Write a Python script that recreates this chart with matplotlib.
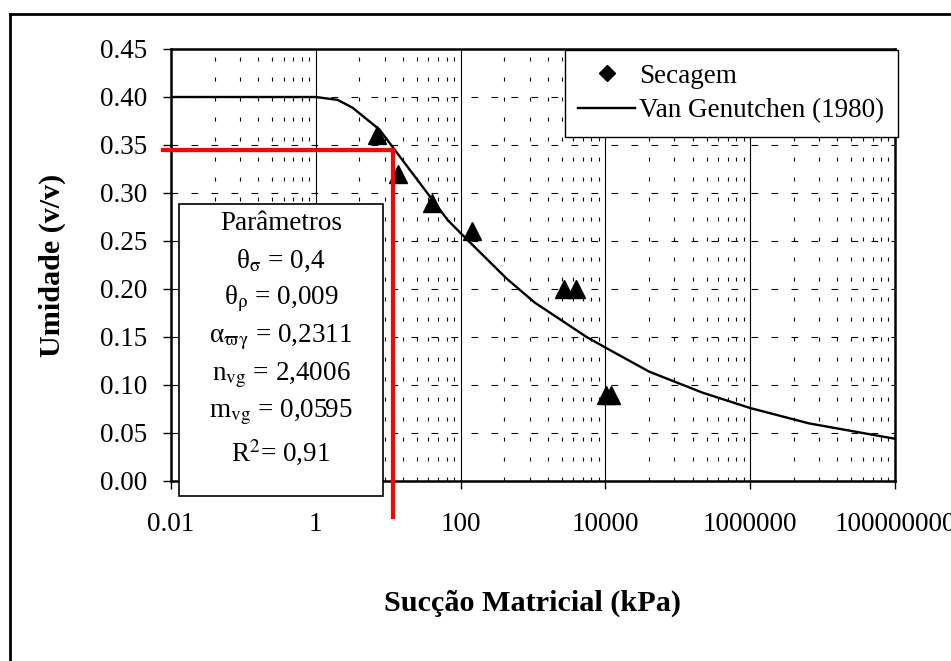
import matplotlib
matplotlib.use('Agg')
import matplotlib.pyplot as plt
from matplotlib.lines import Line2D
from matplotlib.patches import Rectangle
from matplotlib.ticker import FixedLocator, NullLocator

plt.rcParams['font.family'] = 'Liberation Serif'
plt.rcParams['mathtext.fontset'] = 'stix'

# measured points (secagem)
psi_secagem = [6.9, 13.5, 40, 146, 2700, 3870, 10300, 12000]
theta_secagem = [0.36, 0.32, 0.29, 0.26, 0.20, 0.20, 0.09, 0.09]

# Van Genutchen curve
psi_vg = [0.01, 1, 2.0, 3.2, 7.6, 12.3, 66, 107, 430, 1050, 5500, 10000, 40000, 2.2e5, 1e6, 6.5e6, 1e8]
theta_vg = [0.400, 0.400, 0.397, 0.389, 0.366, 0.345, 0.272, 0.256, 0.211, 0.186, 0.150, 0.139, 0.114, 0.092, 0.076, 0.060, 0.044]

# red reference lines
ref_psi = 11.5
ref_theta = 0.345

x_ticks = [0.01, 1, 100, 1e4, 1e6, 1e8]
x_tick_labels = ['0.01', '1', '100', '10000', '1000000', '100000000']
y_ticks = [0.00, 0.05, 0.10, 0.15, 0.20, 0.25, 0.30, 0.35, 0.40, 0.45]
y_tick_labels = ['%.2f' % v for v in y_ticks]

param_lines = ['Parâmetros',
               r'θ$_{\mathrm{σ}}$ = 0,4',
               r'θ$_{\mathrm{ρ}}$ = 0,009',
               r'α$_{\mathrm{ϖγ}}$ = 0,2311',
               r'n$_{\mathrm{vg}}$ = 2,4006',
               r'm$_{\mathrm{vg}}$ = 0,0595',
               r'R$^{2}$= 0,91']

W, H = 951, 661
fig = plt.figure(figsize=(W / 100, H / 100), dpi=100)
ax = fig.add_axes([171 / W, 1 - 481 / H, 724 / W, 432 / H])

ax.set_xscale('log')
ax.set_xlim(0.01, 1e8)
ax.set_ylim(0, 0.45)

# grid: solid major verticals, dotted minor verticals, dashed horizontals
for base in x_ticks[:-1]:
    if base > 0.01:
        ax.axvline(base, color='black', lw=0.8, zorder=1)
    for k in range(2, 10):
        ax.axvline(base * k * k, color='black', lw=0.8, dashes=(3.5, 14.5), zorder=1)
for v in y_ticks[1:-1]:
    ax.axhline(v, color='black', lw=0.8, dashes=(6, 12), zorder=1)

ax.plot(psi_vg, theta_vg, color='black', lw=1.7, zorder=3)
ax.plot(psi_secagem, theta_secagem, ls='none', marker='^', ms=13.5, color='black', zorder=4)

ax.plot([0.0078, ref_psi], [ref_theta, ref_theta], color='red', lw=3, clip_on=False, zorder=7)
ax.plot([ref_psi, ref_psi], [ref_theta, -0.0375], color='red', lw=3, clip_on=False, zorder=7)

ax.xaxis.set_major_locator(FixedLocator(x_ticks))
ax.xaxis.set_minor_locator(NullLocator())
ax.set_xticklabels(x_tick_labels)
ax.set_yticks(y_ticks)
ax.set_yticklabels(y_tick_labels)
ax.tick_params(axis='both', labelsize=19.5, direction='out', length=6, width=1, color='black')
ax.tick_params(axis='x', pad=16)
ax.tick_params(axis='y', pad=11)

for s in ax.spines.values():
    s.set_linewidth(1.8)

# parameters box
box = Rectangle((8 / 724, -15 / 432), 204 / 724, 292 / 432, transform=ax.transAxes,
                facecolor='white', edgecolor='black', lw=1.2, clip_on=False, zorder=6)
ax.add_patch(box)
line_y = [223, 261, 299, 337, 375, 412, 453]
for txt, py in zip(param_lines, line_y):
    ax.text(110 / 724, (481 - py) / 432, txt, transform=ax.transAxes, ha='center', va='center',
            fontsize=19.5, zorder=8)

handles = [Line2D([], [], marker='D', color='black', ls='none', ms=8),
           Line2D([], [], color='black', lw=1.7)]
leg = ax.legend(handles, ['Secagem', 'Van Genutchen (1980)'], loc='upper right',
                bbox_to_anchor=(898 / W, 1 - 50 / H), bbox_transform=fig.transFigure,
                fontsize=19.5, frameon=True, fancybox=False, framealpha=1, edgecolor='black',
                borderaxespad=0, borderpad=0.5, handlelength=2.1, handletextpad=0.15,
                labelspacing=0.35)
leg.get_frame().set_linewidth(1.0)
leg.set_zorder(9)

fig.text(533 / W, 1 - 603 / H, 'Sucção Matricial (kPa)', ha='center', va='center',
         fontsize=21.7, fontweight='bold')
fig.text(52 / W, 1 - 265 / H, 'Umidade (v/v)', ha='center', va='center', rotation=90,
         fontsize=21.7, fontweight='bold')

# outer frame (only top and left visible)
fig.add_artist(Line2D([10 / W, 1], [1 - 14 / H, 1 - 14 / H], transform=fig.transFigure, color='black', lw=2))
fig.add_artist(Line2D([10 / W, 10 / W], [0, 1 - 14 / H], transform=fig.transFigure, color='black', lw=2))

fig.savefig('out.png', dpi=100)
